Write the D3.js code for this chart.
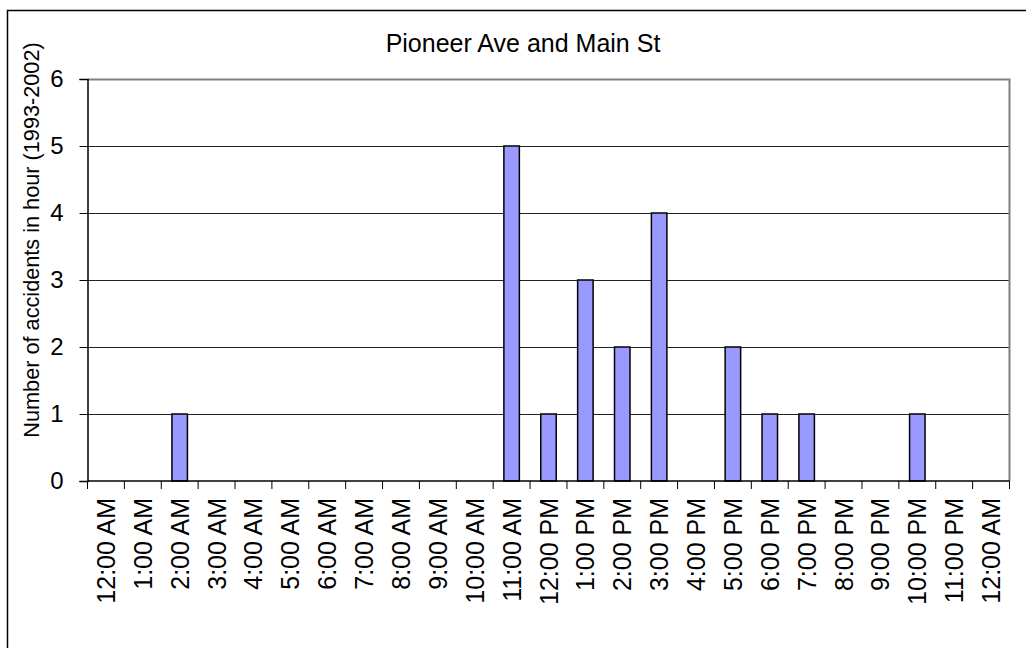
<!DOCTYPE html>
<html>
<head>
<meta charset="utf-8">
<script src="https://cdn.jsdelivr.net/npm/d3@7"></script>
<style>
  body { margin: 0; background: #fff; }
  svg { display: block; font-family: Arial, "Liberation Sans", sans-serif; }
</style>
</head>
<body>
<svg width="1026" height="648"></svg>
<script>
const svg = d3.select("svg");

// data
const hours = ["12:00 AM", "1:00 AM", "2:00 AM", "3:00 AM", "4:00 AM", "5:00 AM",
  "6:00 AM", "7:00 AM", "8:00 AM", "9:00 AM", "10:00 AM", "11:00 AM", "12:00 PM",
  "1:00 PM", "2:00 PM", "3:00 PM", "4:00 PM", "5:00 PM", "6:00 PM", "7:00 PM",
  "8:00 PM", "9:00 PM", "10:00 PM", "11:00 PM", "12:00 AM"];
const accidents = [0, 0, 1, 0, 0, 0, 0, 0, 0, 0, 0, 5, 1, 3, 2, 4, 0, 2, 1, 1, 0, 0, 1, 0, 0];
const yTicks = [0, 1, 2, 3, 4, 5, 6];

const plotLeft = 87.5, plotRight = 1009.5, plotTop = 79, plotBottom = 481;

// outer chart frame
svg.append("rect")
  .attr("x", 7.5).attr("y", 10.5)
  .attr("width", 1040).attr("height", 660)
  .attr("fill", "none").attr("stroke", "#000").attr("stroke-width", 1.5);

const xScale = d3.scaleBand().domain(d3.range(hours.length)).range([plotLeft, plotRight]).padding(0);
const yScale = d3.scaleLinear().domain([0, 6]).range([plotBottom, plotTop]);

// gridlines
svg.append("g")
  .selectAll("line")
  .data(yTicks.filter((d) => d > 0 && d < 6))
  .enter()
  .append("line")
  .attr("x1", plotLeft).attr("x2", plotRight)
  .attr("y1", (d) => Math.round(yScale(d)) + 0.5)
  .attr("y2", (d) => Math.round(yScale(d)) + 0.5)
  .attr("stroke", "#222").attr("stroke-width", 1);

// plot frame top/right in gray
svg.append("path")
  .attr("d", `M${plotLeft},${plotTop + 0.5}H${plotRight}V${plotBottom}`)
  .attr("fill", "none").attr("stroke", "#808080").attr("stroke-width", 2);

// bars
const barW = xScale.bandwidth() * 0.42;
svg.append("g")
  .selectAll("rect")
  .data(accidents.map((v, i) => ({ i, v })).filter((d) => d.v > 0))
  .enter()
  .append("rect")
  .attr("x", (d) => xScale(d.i) + xScale.bandwidth() / 2 - barW / 2)
  .attr("y", (d) => yScale(d.v))
  .attr("width", barW)
  .attr("height", (d) => yScale(0) - yScale(d.v))
  .attr("fill", "#9999FF")
  .attr("stroke", "#000")
  .attr("stroke-width", 1.5);

// y axis
const yAxis = svg.append("g")
  .attr("transform", `translate(${plotLeft},0)`)
  .call(d3.axisLeft(yScale).tickValues(yTicks).tickFormat(d3.format("d")).tickSize(8).tickPadding(16));
yAxis.select(".domain").attr("stroke", "#000").attr("stroke-width", 1.5);
yAxis.selectAll(".tick line").attr("stroke", "#000");
yAxis.selectAll("text").attr("font-size", 24).attr("fill", "#000").attr("font-family", "Arial, 'Liberation Sans', sans-serif");

// x axis: ticks between categories, rotated labels
const xAxis = svg.append("g");
xAxis.append("line")
  .attr("x1", plotLeft).attr("x2", plotRight)
  .attr("y1", plotBottom).attr("y2", plotBottom)
  .attr("stroke", "#000").attr("stroke-width", 1.5);
xAxis.selectAll(".tk")
  .data(d3.range(hours.length + 1))
  .enter()
  .append("line")
  .attr("x1", (d) => (d < hours.length ? xScale(d) : plotRight))
  .attr("x2", (d) => (d < hours.length ? xScale(d) : plotRight))
  .attr("y1", plotBottom).attr("y2", plotBottom + 8)
  .attr("stroke", "#000");
xAxis.selectAll("text")
  .data(hours)
  .enter()
  .append("text")
  .attr("transform", (d, i) => `translate(${xScale(i) + xScale.bandwidth() / 2},${plotBottom + 17}) rotate(-90)`)
  .attr("text-anchor", "end")
  .attr("dy", "0.36em")
  .attr("font-size", 25)
  .text((d) => d);

// title
svg.append("text")
  .attr("x", 523).attr("y", 52)
  .attr("text-anchor", "middle")
  .attr("font-size", 25)
  .text("Pioneer Ave and Main St");

// y axis title
svg.append("text")
  .attr("transform", "translate(39,240) rotate(-90)")
  .attr("text-anchor", "middle")
  .attr("font-size", 21.7)
  .text("Number of accidents in hour (1993-2002)");
</script>
</body>
</html>
